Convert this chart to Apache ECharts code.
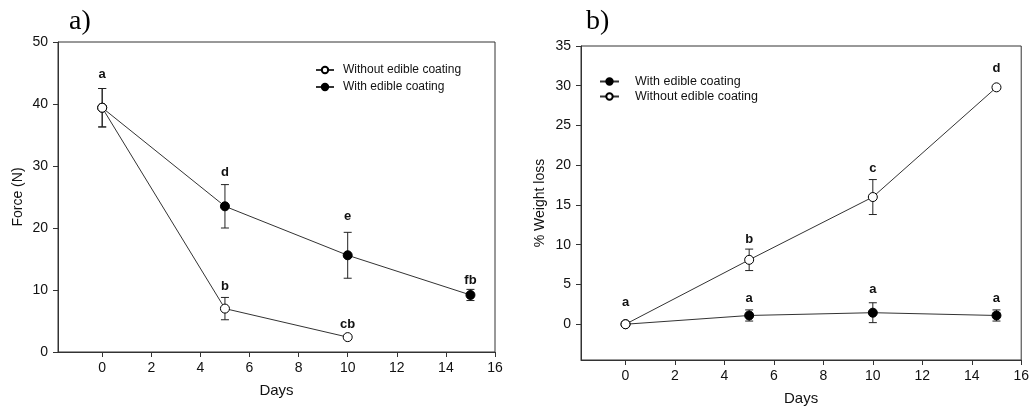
<!DOCTYPE html>
<html>
<head>
<meta charset="utf-8">
<script src="https://cdn.jsdelivr.net/npm/echarts@6/dist/echarts.min.js"></script>
<style>
  html, body { margin: 0; padding: 0; background: #fff; }
  #chart { width: 1032px; height: 412px; }
</style>
</head>
<body>
<div id="chart"></div>
<script>
// 数据 a) Force
var daysA = [0, 5, 10, 15];
var forceWith = [39.4, 23.5, 15.6, 9.2];
var forceWithErr = [3.1, 3.5, 3.7, 0.9];
var forceWithout = [39.4, 7.0, 2.4];
var forceWithoutErr = [3.1, 1.8, 0];
var forceLetterX = [0, 5, 5, 10, 10, 15];
var forceLetterY = [44.8, 29.0, 10.6, 21.8, 4.5, 11.6];
var forceLetterText = ['a', 'd', 'b', 'e', 'cb', 'fb'];

// 数据 b) Weight loss
var daysB = [0, 5, 10, 15];
var lossWith = [0, 1.1, 1.45, 1.1];
var lossWithErr = [0, 0.7, 1.25, 0.7];
var lossWithout = [0, 8.1, 16.0, 29.8];
var lossWithoutErr = [0, 1.35, 2.2, 0];
var lossLetterX = [0, 5, 10, 15, 5, 10, 15];
var lossLetterY = [2.7, 10.7, 19.6, 32.2, 3.3, 4.35, 3.3];
var lossLetterText = ['a', 'b', 'c', 'd', 'a', 'a', 'a'];

var xTicks = [0, 2, 4, 6, 8, 10, 12, 14, 16];
var yTicksA = [0, 10, 20, 30, 40, 50];
var yTicksB = [0, 5, 10, 15, 20, 25, 30, 35];

var NAME_WITH = 'With edible coating';
var NAME_WITHOUT = 'Without edible coating';
var ink = '#111';
var sans = '"Liberation Sans", Arial, sans-serif';

function pairs(xs, ys) {
	var out = [];
	for (var i = 0; i < ys.length; i++) out.push([xs[i], ys[i]]);
	return out;
}

function errData(xs, ys, errs) {
	var out = [];
	for (var i = 0; i < ys.length; i++) {
		if (errs[i] > 0) out.push([xs[i], ys[i] - errs[i], ys[i] + errs[i]]);
	}
	return out;
}

function letterData(xs, ys, txt) {
	var out = [];
	for (var i = 0; i < txt.length; i++) out.push([xs[i], ys[i], txt[i]]);
	return out;
}

// 误差线
function renderErr(params, api) {
	var x = api.value(0);
	var lo = api.coord([x, api.value(1)]);
	var hi = api.coord([x, api.value(2)]);
	var w = 4;
	var st = { stroke: '#222', lineWidth: 1 };
	return {
		type: 'group',
		children: [
			{ type: 'line', shape: { x1: hi[0], y1: hi[1], x2: lo[0], y2: lo[1] }, style: st },
			{ type: 'line', shape: { x1: hi[0] - w, y1: hi[1], x2: hi[0] + w, y2: hi[1] }, style: st },
			{ type: 'line', shape: { x1: lo[0] - w, y1: lo[1], x2: lo[0] + w, y2: lo[1] }, style: st }
		]
	};
}

// 字母标注
function renderLetter(params, api) {
	var p = api.coord([api.value(0), api.value(1)]);
	return {
		type: 'text',
		x: p[0], y: p[1],
		style: {
			text: api.value(2),
			fill: ink,
			font: 'bold 13px ' + sans,
			align: 'center', verticalAlign: 'middle'
		}
	};
}

function lineSeries(name, idx, xs, ys, filled) {
	return {
		name: name,
		type: 'line',
		xAxisIndex: idx, yAxisIndex: idx,
		data: pairs(xs, ys),
		symbol: 'circle',
		symbolSize: 9,
		showSymbol: true,
		z: filled ? 3 : 4,
		lineStyle: { color: '#333', width: 1 },
		itemStyle: { color: filled ? '#000' : '#fff', borderColor: '#000', borderWidth: 1 },
		emphasis: { disabled: true },
		animation: false
	};
}

function errSeries(idx, data) {
	return {
		type: 'custom', xAxisIndex: idx, yAxisIndex: idx,
		data: data, renderItem: renderErr, z: 2, silent: true, animation: false
	};
}

function letterSeries(idx, data) {
	return {
		type: 'custom', xAxisIndex: idx, yAxisIndex: idx,
		data: data, renderItem: renderLetter, z: 5, silent: true, animation: false
	};
}

var axisFont = { color: ink, fontSize: 14, fontFamily: sans };

function xAxis(gridIdx) {
	return {
		type: 'value', gridIndex: gridIdx,
		min: -1.8, max: 16,
		name: 'Days', nameLocation: 'middle', nameGap: 31,
		nameTextStyle: { color: ink, fontSize: 15, fontFamily: sans },
		axisLine: { onZero: false, lineStyle: { color: '#333', width: 1 } },
		axisTick: { inside: false, length: 5, lineStyle: { color: '#333' }, customValues: xTicks },
		axisLabel: Object.assign({ margin: 9, customValues: xTicks }, axisFont),
		splitLine: { show: false }
	};
}

function yAxis(gridIdx, name, min, max, ticks, gap) {
	return {
		type: 'value', gridIndex: gridIdx,
		min: min, max: max,
		name: name, nameLocation: 'middle', nameGap: gap,
		nameTextStyle: { color: ink, fontSize: 14, fontFamily: sans },
		axisLine: { show: true, onZero: false, lineStyle: { color: '#333', width: 1 } },
		axisTick: { show: true, inside: false, length: 5, lineStyle: { color: '#333' }, customValues: ticks },
		axisLabel: Object.assign({ margin: 10, customValues: ticks }, axisFont),
		splitLine: { show: false }
	};
}

var chart = echarts.init(document.getElementById('chart'), null, { renderer: 'canvas' });

var option = {
	backgroundColor: '#fff',
	animation: false,
	graphic: [
		{ type: 'text', left: 69, top: 8, style: { text: 'a)', fill: '#000', font: '28px "Liberation Serif", "DejaVu Serif", serif' } },
		{ type: 'text', left: 586, top: 8, style: { text: 'b)', fill: '#000', font: '28px "Liberation Serif", "DejaVu Serif", serif' } }
	],
	grid: [
		{ left: 58, top: 42, width: 437, height: 310, show: true, borderColor: '#333', borderWidth: 1, backgroundColor: 'transparent' },
		{ left: 581, top: 46, width: 441, height: 314, show: true, borderColor: '#333', borderWidth: 1, backgroundColor: 'transparent' }
	],
	legend: [
		{
			left: 310, top: 59, orient: 'vertical',
			itemWidth: 18, itemHeight: 8, itemGap: 5,
			data: [NAME_WITHOUT, NAME_WITH],
			textStyle: { color: ink, fontSize: 12, fontFamily: sans, padding: [0, 0, 0, 4] },
			selectedMode: false
		},
		{
			left: 594, top: 70, orient: 'vertical',
			itemWidth: 19, itemHeight: 8, itemGap: 2,
			data: [NAME_WITH, NAME_WITHOUT],
			textStyle: { color: ink, fontSize: 12.5, fontFamily: sans, padding: [0, 0, 0, 11] },
			selectedMode: false
		}
	],
	xAxis: [xAxis(0), xAxis(1)],
	yAxis: [
		yAxis(0, 'Force (N)', 0, 50, yTicksA, 33),
		yAxis(1, '% Weight loss', -4.5, 35, yTicksB, 34)
	],
	series: [
		errSeries(0, errData(daysA, forceWith, forceWithErr)),
		errSeries(0, errData(daysA, forceWithout, forceWithoutErr)),
		lineSeries(NAME_WITH, 0, daysA, forceWith, true),
		lineSeries(NAME_WITHOUT, 0, daysA, forceWithout, false),
		letterSeries(0, letterData(forceLetterX, forceLetterY, forceLetterText)),

		errSeries(1, errData(daysB, lossWith, lossWithErr)),
		errSeries(1, errData(daysB, lossWithout, lossWithoutErr)),
		lineSeries(NAME_WITH, 1, daysB, lossWith, true),
		lineSeries(NAME_WITHOUT, 1, daysB, lossWithout, false),
		letterSeries(1, letterData(lossLetterX, lossLetterY, lossLetterText))
	]
};

chart.setOption(option);
</script>
</body>
</html>
